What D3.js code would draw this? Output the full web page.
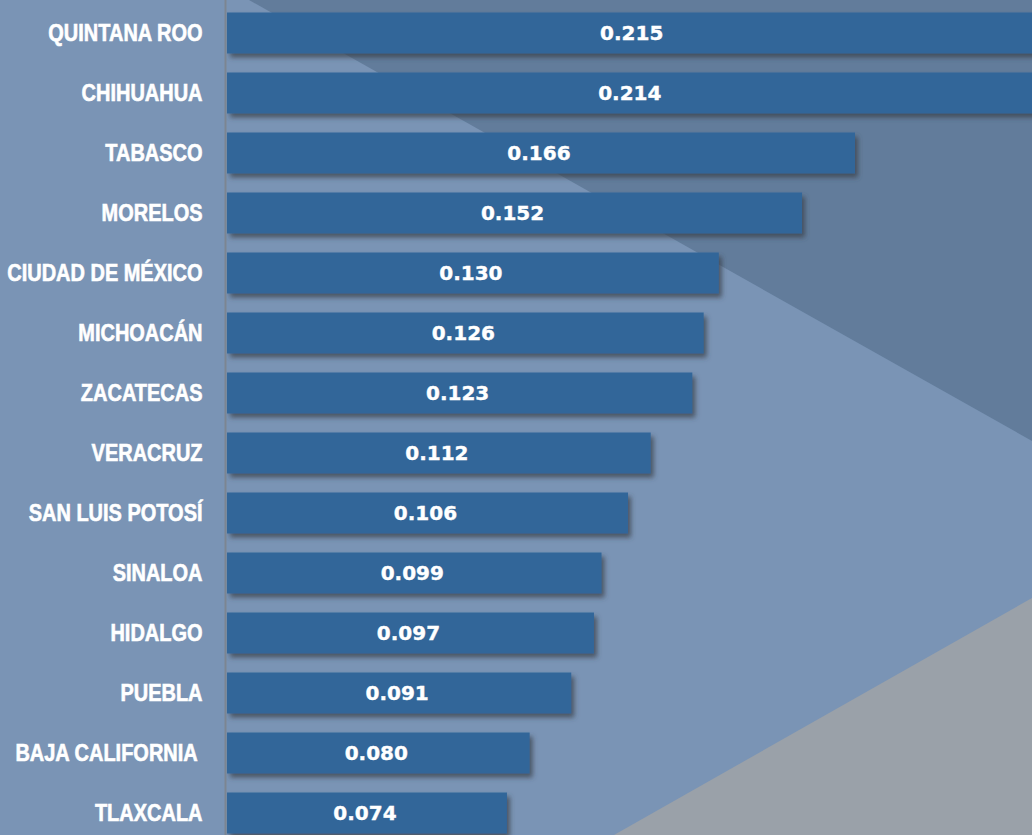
<!DOCTYPE html>
<html>
<head>
<meta charset="utf-8">
<script src="https://cdn.jsdelivr.net/npm/d3@7"></script>
<style>
  html, body { margin: 0; padding: 0; background: #7a94b5; overflow: hidden; }
  svg { display: block; }
</style>
</head>
<body>
<svg id="chart" width="1032" height="835"></svg>
<script>
const states = ["QUINTANA ROO","CHIHUAHUA","TABASCO","MORELOS","CIUDAD DE MÉXICO","MICHOACÁN","ZACATECAS","VERACRUZ","SAN LUIS POTOSÍ","SINALOA","HIDALGO","PUEBLA","BAJA CALIFORNIA ","TLAXCALA"];
const values = [0.215,0.214,0.166,0.152,0.130,0.126,0.123,0.112,0.106,0.099,0.097,0.091,0.080,0.074];
const valueLabels = ["0.215","0.214","0.166","0.152","0.130","0.126","0.123","0.112","0.106","0.099","0.097","0.091","0.080","0.074"];

const W = 1032, H = 835;
const svg = d3.select("#chart");

// background shapes
svg.append("rect").attr("width", W).attr("height", H).attr("fill", "#7a94b5");
svg.append("polygon")
  .attr("points", [[249,0],[W,0],[W,441]].map(p => p.join(",")).join(" "))
  .attr("fill", "#627c9b");
svg.append("polygon")
  .attr("points", [[W,598],[W,H],[614,H]].map(p => p.join(",")).join(" "))
  .attr("fill", "#9aa1a9");

const defs = svg.append("defs");
const f = defs.append("filter").attr("id", "shadow")
  .attr("x", "-5%").attr("y", "-30%").attr("width", "115%").attr("height", "170%");
f.append("feDropShadow").attr("dx", 3).attr("dy", 4).attr("stdDeviation", 2.5)
  .attr("flood-color", "#3a3f48").attr("flood-opacity", 0.75);

const x0 = 227;
const x = d3.scaleLinear().domain([0, 0.166]).range([x0, 855]);
const y = d3.scaleBand().domain(states).range([3, 843]).paddingInner(0.3167).paddingOuter(0.1583);

const g = svg.append("g");
g.selectAll("rect.bar").data(states).join("rect")
  .attr("class", "bar")
  .attr("x", x(0))
  .attr("y", d => y(d))
  .attr("width", (d, i) => x(values[i]) - x(0))
  .attr("height", y.bandwidth())
  .attr("fill", "#326699")
  .attr("filter", "url(#shadow)");

// axis line + category labels
const pad = 23, sx = 0.85;
const yAxis = d3.axisLeft(y).tickSize(0).tickPadding(pad);
const ax = svg.append("g").attr("transform", `translate(${x0 - 1.5},0)`).call(yAxis);
ax.select(".domain").attr("d", `M0,0V${H}`).attr("stroke", "#7c8591").attr("stroke-width", 2);
ax.selectAll(".tick text")
  .style("white-space", "pre")
  .attr("fill", "#ffffff")
  .attr("stroke", "#ffffff")
  .attr("stroke-width", 0.6)
  .attr("font-family", "'Liberation Sans', Arial, sans-serif")
  .attr("font-weight", "bold")
  .attr("font-size", "23.5px")
  .attr("x", -pad / sx)
  .attr("transform", `scale(${sx},1)`)
  .attr("dy", "0.36em");

g.selectAll("text.val").data(states).join("text")
  .attr("class", "val")
  .attr("x", (d, i) => (x(0) + x(values[i])) / 2 - 2)
  .attr("y", d => y(d) + y.bandwidth() / 2)
  .attr("dy", "0.36em")
  .attr("text-anchor", "middle")
  .attr("fill", "#ffffff")
  .attr("stroke", "#ffffff")
  .attr("stroke-width", 0.4)
  .attr("font-family", "'DejaVu Sans', sans-serif")
  .attr("font-weight", "bold")
  .attr("font-size", "20px")
  .text((d, i) => valueLabels[i]);
</script>
</body>
</html>
